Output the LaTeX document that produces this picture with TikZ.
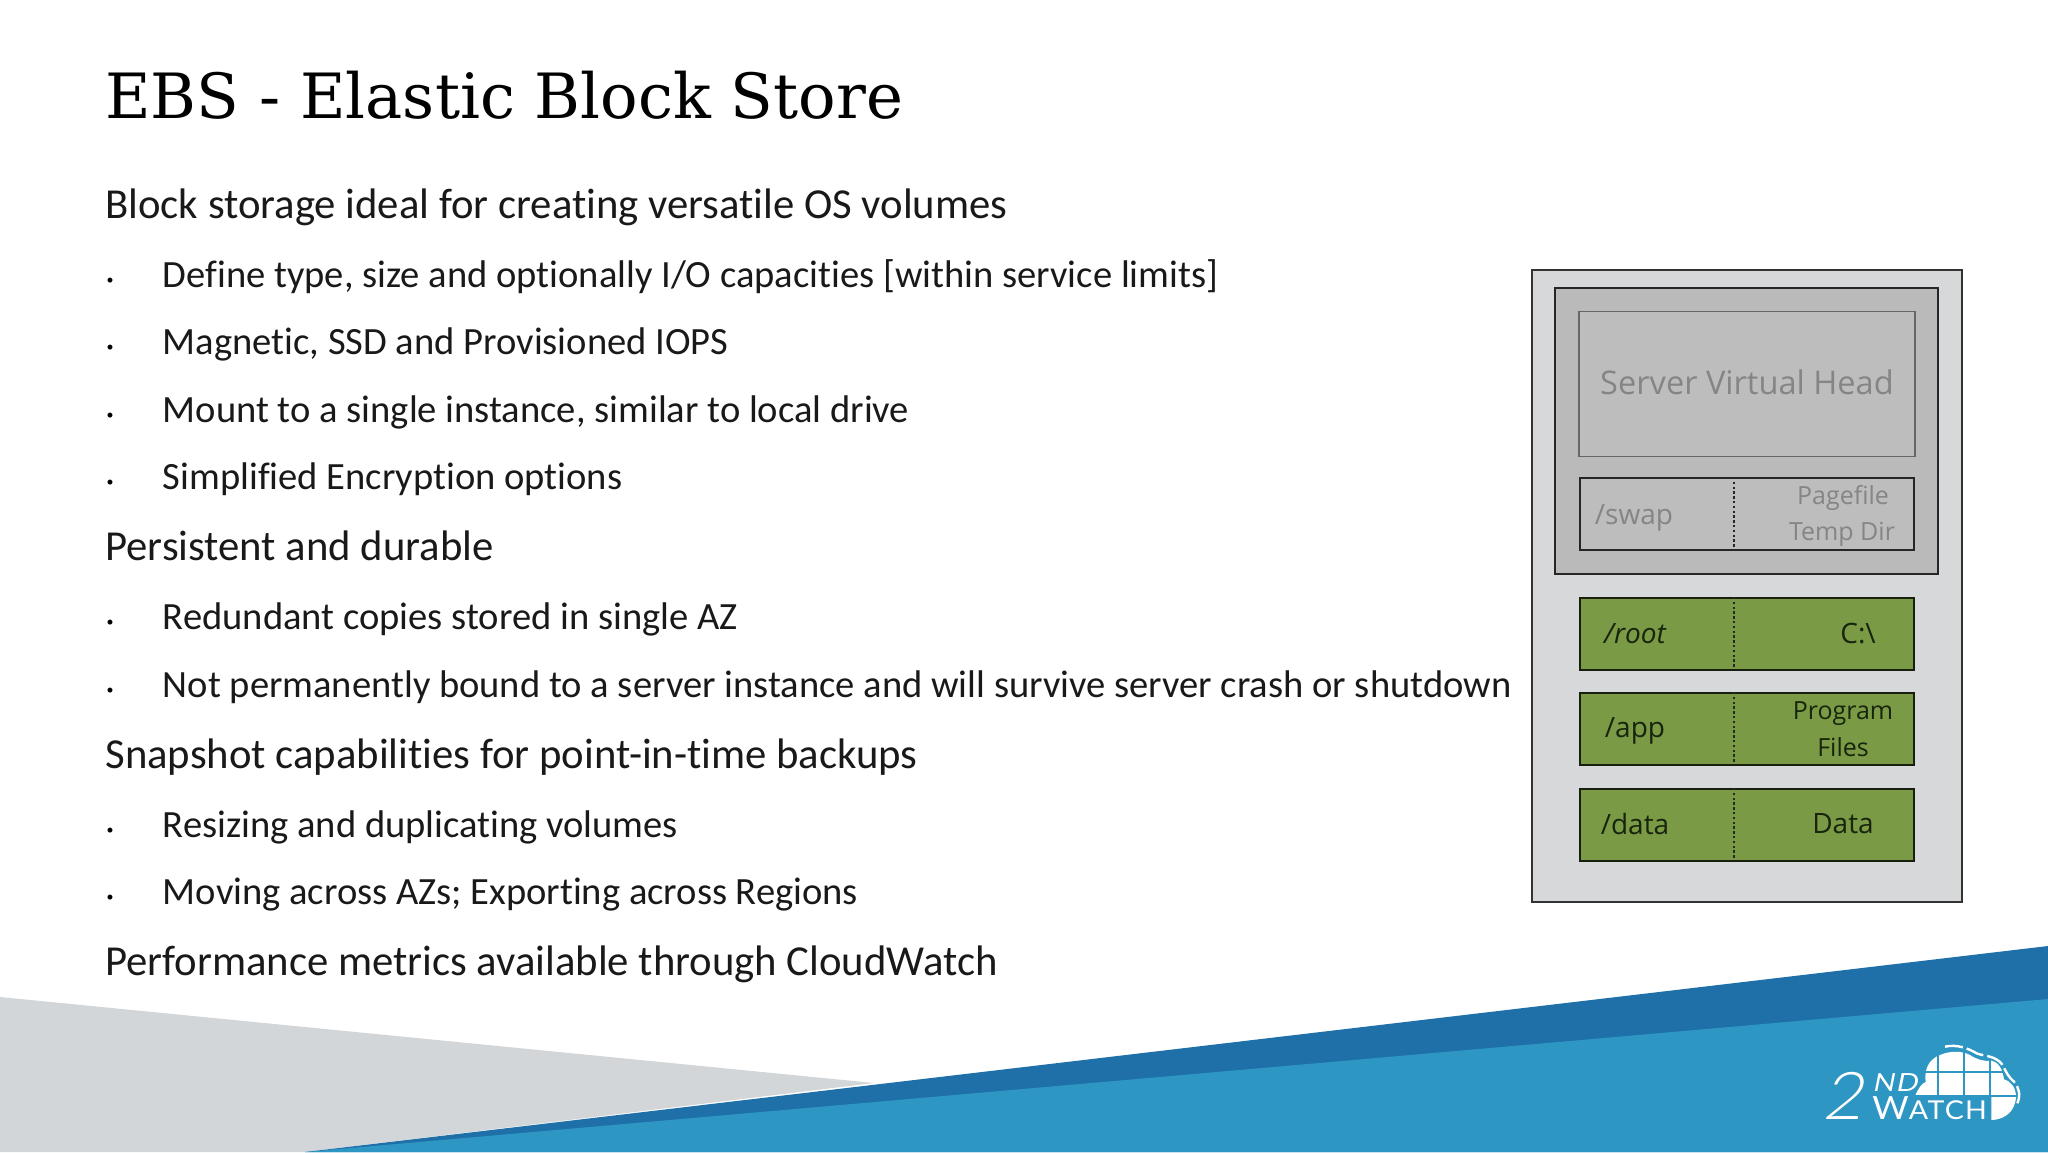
\documentclass[tikz,border=0pt]{standalone}
\usepackage{fontspec}
\setmainfont{Carlito}[Ligatures=NoCommon]
\newfontfamily\titlefont{DejaVu Serif}
\newfontfamily\diagfont{Open Sans}
\newfontfamily\logofont{Lato}[Ligatures=NoCommon,FakeStretch=1.1,LetterSpace=5]
\newfontface\logotwo{Lato Light}[FakeSlant=0.2,FakeStretch=1.05]
\newfontface\logond{Lato}[FakeSlant=0.2,FakeStretch=1.15,LetterSpace=5]
\definecolor{slateg}{HTML}{D2D6D9}
\definecolor{deepb}{HTML}{1F70A8}
\definecolor{lightb}{HTML}{2E96C3}
\definecolor{outerg}{HTML}{D7D8D9}
\definecolor{innerg}{HTML}{BABABB}
\definecolor{headg}{HTML}{BEBDBE}
\definecolor{volg}{HTML}{7A9A45}
\definecolor{fadetxt}{HTML}{858585}
\definecolor{voltxt}{HTML}{18240C}
\tikzset{
  x=0.5pt,y=-0.5pt,
  lone/.style={anchor=base west,inner sep=0,font=\fontsize{21.35}{24}\selectfont,text=black!90},
  ltwo/.style={anchor=base west,inner sep=0,font=\fontsize{19.28}{22}\selectfont,text=black!90},
  bul/.style={anchor=base,inner sep=0,font=\fontsize{7}{8}\selectfont},
  box/.style={draw=#1,inner sep=0,anchor=north west,font=\diagfont\fontsize{16}{20}\selectfont},
  volbox/.style={draw=black!80!volg,line width=1.1pt,fill=volg,inner sep=0,anchor=north west,minimum width=167pt,minimum height=36pt},
  divider/.style={line width=.7pt,dash pattern=on 1.2pt off 1.2pt,draw=black!85},
  lbl/.style={inner sep=0,align=center,font=\diagfont\fontsize{12.5}{14}\selectfont,text=voltxt},
  lblbig/.style={lbl,font=\diagfont\fontsize{14}{16}\selectfont},
  fadelbl/.style={lbl,text=fadetxt},
  logotext/.style={anchor=base west,inner sep=0,text=white},
}
\begin{document}
\begin{tikzpicture}
\useasboundingbox (0,0) rectangle (2048,1152);
\fill[white] (0,0) rectangle (2048,1152);
% background wedges
\fill[slateg] (0,997) -- (874,1083) -- (305,1152) -- (0,1152) -- cycle;
\fill[deepb] (305,1152) -- (2048,946) -- (2048,1152) -- cycle;
\fill[lightb] (305,1152) -- (2048,999) -- (2048,1152) -- cycle;
% title
\node[anchor=base west,inner sep=0] (title) at (105,118) {\titlefont\fontsize{31.2}{38}\selectfont EBS - Elastic Block Store};
% text
\node[lone] (t1) at (105,218.3) {Block storage ideal for creating versatile OS volumes};
\node[ltwo] (t2) at (162.5,287.3) {Define type, size and optionally I/O capacities [within service limits]};
\node[ltwo] (t3) at (162.5,354.3) {Magnetic, SSD and Provisioned IOPS};
\node[ltwo] (t4) at (162.5,422.3) {Mount to a single instance, similar to local drive};
\node[ltwo] (t5) at (162.5,489.3) {Simplified Encryption options};
\node[lone] (t6) at (105,560.3) {Persistent and durable};
\node[ltwo] (t7) at (162.5,629.3) {Redundant copies stored in single AZ};
\node[ltwo] (t8) at (162.5,697.3) {Not permanently bound to a server instance and will survive server crash or shutdown};
\node[lone] (t9) at (105,768.3) {Snapshot capabilities for point-in-time backups};
\node[ltwo] (t10) at (162.5,837.3) {Resizing and duplicating volumes};
\node[ltwo] (t11) at (162.5,904.3) {Moving across AZs; Exporting across Regions};
\node[lone] (t12) at (105,975.3) {Performance metrics available through CloudWatch};
\foreach \yy/\nm in {284/a,351/b,419/c,486/d,626/e,694/f,834/g,901/h}
  \node[bul] (bullet\nm) at (110,\yy) {•};
% diagram
\node[box=black!80,fill=outerg,line width=.9pt,minimum width=215pt,minimum height=316pt] (outer) at (1531,269) {};
\node[box=black!85,fill=innerg,line width=1.1pt,minimum width=191.5pt,minimum height=143pt] (inner) at (1554,287) {};
\node[box=black!60,fill=headg,line width=.8pt,minimum width=168pt,minimum height=72.5pt] (head) at (1578,310.5) {};
\node[fadelbl,font=\diagfont\fontsize{16.3}{20}\selectfont] (headtext) at (1747,382) {Server Virtual Head};
\node[box=black!85,line width=1.1pt,fill=headg,minimum width=167pt,minimum height=36pt] (swap) at (1578.5,477) {};
\node[volbox] (root) at (1578.5,597) {};
\node[volbox] (app) at (1578.5,692) {};
\node[volbox] (data) at (1578.5,788) {};
\foreach \bx/\yt/\yb in {swap/477/549,root/597/669,app/692/763,data/788/860}{
  \coordinate (\bx top) at (1734,\yt);
  \coordinate (\bx bot) at (1734,\yb);
  \draw[divider] (\bx top) -- (\bx bot);
}
\node[fadelbl,font=\diagfont\fontsize{14}{16}\selectfont] (swapl) at (1634,518) {/swap};
\node[fadelbl] (swapr) at (1842,534) {Temp Dir};
\node[fadelbl] (swapq) at (1843,498) {Pagefile};
\node[lblbig] (rootl) at (1635,634) {\itshape /root};
\node[lblbig] (rootr) at (1858,634) {C:\textbackslash};
\node[lblbig] (appl) at (1635,731) {/app};
\node[lbl] (appr) at (1843,714) {Program};
\node[lbl] (apps) at (1843,747) {Files};
\node[lblbig] (datal) at (1635,824) {/data};
\node[lblbig] (datar) at (1843,824) {Data};
% logo
\begin{scope}[shift={(1780,1020)},x=0.16667pt,y=-0.16667pt]
  \fill[white] (405,228) .. controls (415,205) and (425,190) .. (437,186)
     .. controls (432,150) and (445,118) .. (480,105)
     .. controls (510,92) and (545,92) .. (570,105)
     .. controls (590,118) and (610,125) .. (635,122)
     .. controls (662,130) and (668,155) .. (672,178)
     .. controls (695,185) and (708,205) .. (708,232)
     .. controls (705,270) and (680,298) .. (634,300)
     -- (634,228) -- cycle;
  \draw[lightb,line width=.9pt] (475,90) -- (475,228) (553,90) -- (553,228) (630,100) -- (630,300) (420,155) -- (690,155) (405,228) -- (715,228);
  \draw[white,line width=1.2pt,dash pattern=on 9pt off 2pt] (495,80) .. controls (530,72) and (565,85) .. (590,100)
     .. controls (615,110) and (645,105) .. (668,135)
     .. controls (680,160) and (685,170) .. (702,185)
     .. controls (718,205) and (722,225) .. (712,250);
  \node[logotext] (two) at (125,297) {\logotwo\fontsize{33}{33}\selectfont 2};
  \node[logotext] (nd) at (276,213) {\logond\fontsize{12.5}{13}\selectfont ND};
  \node[logotext] (watch) at (276,299) {\logofont\fontsize{16}{16}\selectfont W\fontsize{13}{13}\selectfont ATCH};
\end{scope}
\end{tikzpicture}
\end{document}
